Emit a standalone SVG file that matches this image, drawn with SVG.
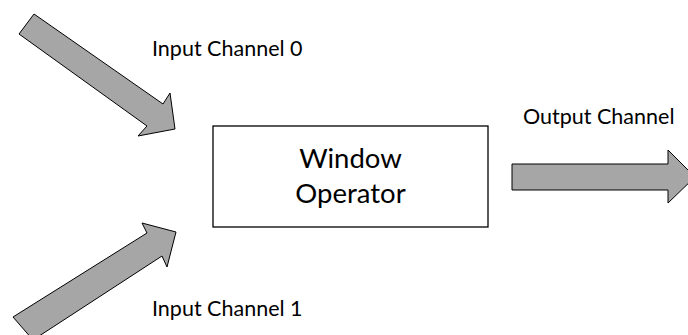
<svg xmlns="http://www.w3.org/2000/svg" width="688" height="335" viewBox="0 0 688 335">
  <style>
    .flow { fill: #a6a6a6; stroke: #000; stroke-width: 1; stroke-linejoin: miter; }
    .box { fill: #fff; stroke: #000; stroke-width: 1.3; }
    .label { font-family: Lato, "Open Sans", "Liberation Sans", sans-serif; fill: #000; }
    .small { font-size: 21.5px; }
    .big { font-size: 27.5px; }
  </style>
  <rect width="688" height="335" fill="#fff"/>

  <!-- channel arrows -->
  <g id="connectors">
    <polygon class="flow" points="34,14 163,104 170,93 175,129 138,136 147,126 19,34"/>
    <polygon class="flow" points="13,317 147,233 142,223 176,232 167,267 162,256 33,340"/>
    <polygon class="flow" points="512,164 668,164 668,150 695,177 668,203 668,190 512,190"/>
  </g>

  <g id="window-operator">
    <rect class="box" x="213" y="126" width="275" height="101"/>
    <text class="label big" x="350.5" y="168" text-anchor="middle">Window</text>
    <text class="label big" x="350.5" y="203" text-anchor="middle">Operator</text>
  </g>

  <g id="labels">
    <text class="label small" x="152" y="56">Input Channel 0</text>
    <text class="label small" x="152" y="316">Input Channel 1</text>
    <text class="label small" x="523" y="124">Output Channel</text>
  </g>
</svg>
